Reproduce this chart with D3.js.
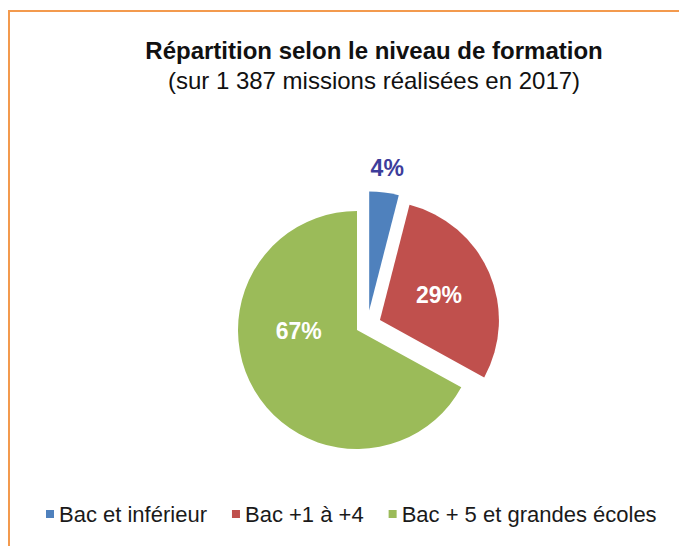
<!DOCTYPE html>
<html>
<head>
<meta charset="utf-8">
<script src="https://cdn.jsdelivr.net/npm/d3@7"></script>
<style>
  body { margin: 0; background: #fff; }
  text { font-family: "Liberation Sans", Arial, sans-serif; }
</style>
</head>
<body>
<script>
"use strict";

// data
const categories = ["Bac et inférieur", "Bac +1 à +4", "Bac + 5 et grandes écoles"];
const values = [4, 29, 67];
const colors = ["#4f81bd", "#c0504d", "#9bbb59"];

// SVG dimensions
const w = 679;
const h = 546;
const cx = 357;
const cy = 330;
const radius = 119;

// explosion distance per slice, direction override in degrees (null = mid angle)
const explodeDist = [23, 25, 0];
const explodeDir = [32, null, null];
// label radius (fraction of radius) and angle override
const labelRadius = [1.21, 0.54, 0.49];
const labelDir = [null, null, 269];
const labelColors = ["#3d3d9b", "#ffffff", "#ffffff"];

const svg = d3.select("body").append("svg").attr("width", w).attr("height", h);

//orange frame
svg
  .append("rect")
  .attr("x", 9)
  .attr("y", 11)
  .attr("width", w + 20)
  .attr("height", h + 20)
  .attr("fill", "none")
  .attr("stroke", "#f39a4e")
  .attr("stroke-width", 2);

//titles
svg
  .append("text")
  .attr("x", 374)
  .attr("y", 59)
  .attr("text-anchor", "middle")
  .attr("font-size", 24)
  .attr("font-weight", "bold")
  .attr("fill", "#111")
  .text("Répartition selon le niveau de formation");

svg
  .append("text")
  .attr("x", 374)
  .attr("y", 89)
  .attr("text-anchor", "middle")
  .attr("font-size", 24)
  .attr("fill", "#111")
  .text("(sur 1 387 missions réalisées en 2017)");

const dataset = categories.map((c, i) => ({ name: c, value: values[i], i: i }));

const pie = d3.pie().sort(null).value((d) => d.value);
const arc = d3.arc().innerRadius(0).outerRadius(radius);
const arcs = pie(dataset);

const toRad = (deg) => (deg * Math.PI) / 180;

const offsetOf = (d) => {
  const i = d.data.i;
  const a = explodeDir[i] === null ? (d.startAngle + d.endAngle) / 2 : toRad(explodeDir[i]);
  return [Math.sin(a) * explodeDist[i], -Math.cos(a) * explodeDist[i]];
};

const g = svg.append("g").attr("transform", `translate(${cx}, ${cy})`);

//slices
g.selectAll("path")
  .data(arcs)
  .enter()
  .append("path")
  .attr("d", arc)
  .attr("fill", (d) => colors[d.data.i])
  .attr("transform", (d) => {
    const o = offsetOf(d);
    return `translate(${o[0]}, ${o[1]})`;
  });

//percent labels
g.selectAll(".label")
  .data(arcs)
  .enter()
  .append("text")
  .attr("class", "label")
  .attr("transform", (d) => {
    const i = d.data.i;
    const o = offsetOf(d);
    const a = labelDir[i] === null ? (d.startAngle + d.endAngle) / 2 : toRad(labelDir[i]);
    const r = labelRadius[i] * radius;
    return `translate(${o[0] + Math.sin(a) * r}, ${o[1] - Math.cos(a) * r})`;
  })
  .attr("text-anchor", "middle")
  .attr("dy", "0.36em")
  .attr("font-size", 23)
  .attr("font-weight", "bold")
  .attr("fill", (d) => labelColors[d.data.i])
  .text((d) => `${d.data.value}%`);

//legend
const legend = svg.append("g");
let lx = 46;
dataset.forEach((d) => {
  legend
    .append("rect")
    .attr("x", lx)
    .attr("y", 510)
    .attr("width", 8)
    .attr("height", 8)
    .attr("fill", colors[d.i]);
  const t = legend
    .append("text")
    .attr("x", lx + 13)
    .attr("y", 522)
    .attr("font-size", 22)
    .attr("fill", "#1a1a1a")
    .text(d.name);
  lx += 13 + t.node().getComputedTextLength() + 25;
});
</script>
</body>
</html>
